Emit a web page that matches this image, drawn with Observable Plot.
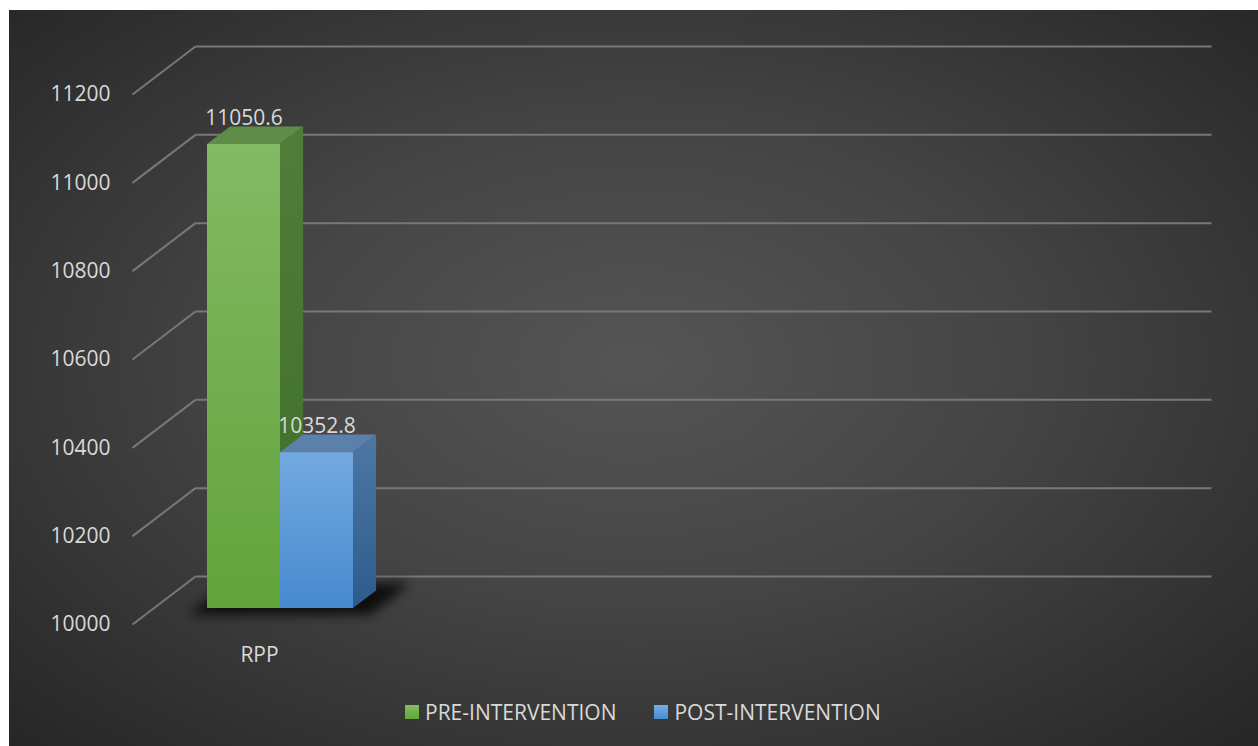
<!DOCTYPE html>
<html><head><meta charset="utf-8">
<script src="https://cdn.jsdelivr.net/npm/d3@7"></script>
<script src="https://cdn.jsdelivr.net/npm/@observablehq/plot@0.6"></script>
<style>
html,body{margin:0;padding:0;background:#fff;}
#frame{position:absolute;left:9px;top:10px;width:1249px;height:736px;
background:radial-gradient(ellipse farthest-corner at 50% 48%, #555555 0%, #444444 45%, #262626 100%);
font-family:"Open Sans",sans-serif;overflow:hidden;}
#legend{position:absolute;left:396px;top:688px;height:28px;display:flex;align-items:center;color:#d9d9d9;font-size:21px;white-space:nowrap;}
.item{display:flex;align-items:center;}
.sw{width:14px;height:14px;margin-right:6px;}
</style></head><body><div id="frame"><div id="chart"></div><div id="legend"></div></div>
<script>
// ---- data ----
const categories = ["RPP"];
const seriesNames = ["PRE-INTERVENTION", "POST-INTERVENTION"];
const preValues = [11050.6];
const postValues = [10352.8];
const yTicks = [10000, 10200, 10400, 10600, 10800, 11000, 11200];

// ---- layout / style constants ----
const W = 1249, H = 680;
const slots = 4;                       // category slots along the 3D floor
const xRange = [123, 1139], yRange = [614, 84];
const yDomain = [10000, 11200];
const depthX = 63, depthY = 48;        // oblique depth of the back wall (px)
const pxPerX = (xRange[1] - xRange[0]) / slots;
const pxPerY = (yRange[0] - yRange[1]) / (yDomain[1] - yDomain[0]);
const dxu = d => d * depthX / pxPerX;  // depth -> x data units
const dyu = d => d * depthY / pxPerY;  // depth -> y data units
const barW = 73 / pxPerX;
const d0 = 1 / 3, d1 = 0.70;          // bar front/back depth
const base = yDomain[0];
const txt = "#d9d9d9", grid = "#787878", font = "Open Sans", fs = 21;
const shadowFill = "#010101";
const seriesValues = [preValues, postValues];
const fills = [
  {front: "url(#gF0)", side: "url(#gS0)", top: "#5f8c47", legend: "linear-gradient(#83bd62,#63a73b)"},
  {front: "url(#gF1)", side: "url(#gS1)", top: "#5b80aa", legend: "linear-gradient(#75aee6,#4a8bd0)"}
];

const marks = [];
// back wall gridlines
marks.push(Plot.link(yTicks, {
  x1: () => dxu(1), x2: () => slots + dxu(1),
  y1: t => t + dyu(1), y2: t => t + dyu(1),
  stroke: grid, strokeWidth: 2
}));
// side wall diagonals
marks.push(Plot.link(yTicks, {
  x1: () => 0, x2: () => dxu(1),
  y1: t => t, y2: t => t + dyu(1),
  stroke: grid, strokeWidth: 2
}));
// tick labels
marks.push(Plot.text(yTicks, {
  x: () => 0, y: t => t, dx: -22, text: t => String(t), textAnchor: "end",
  fill: txt, fontSize: fs, fontFamily: font
}));
// floor shadow
categories.forEach((c, i) => {
  const xl = i + 0.5 - barW - 0.04, xr = i + 0.5 + barW + 0.1;
  const pts = [0.2, 0.85].map(d => ({y: base + dyu(d), x1: xl + dxu(d), x2: xr + dxu(d)}));
  marks.push(Plot.areaX(pts, {y: "y", x1: "x1", x2: "x2", fill: shadowFill, fillOpacity: 0.8}));
});
// bars
seriesValues.forEach((vals, j) => {
  vals.forEach((v, i) => {
    const xl = i + 0.5 - barW + j * barW, xr = xl + barW;
    const side = [d0, d1].map(d => ({x: xr + dxu(d), y1: base + dyu(d), y2: v + dyu(d)}));
    marks.push(Plot.areaY(side, {x: "x", y1: "y1", y2: "y2", fill: fills[j].side}));
    const top = [d0, d1].map(d => ({y: v + dyu(d), x1: xl + dxu(d), x2: xr + dxu(d)}));
    marks.push(Plot.areaX(top, {y: "y", x1: "x1", x2: "x2", fill: fills[j].top}));
    marks.push(Plot.rect([v], {
      x1: () => xl + dxu(d0), x2: () => xr + dxu(d0),
      y1: () => base + dyu(d0), y2: d => d + dyu(d0), fill: fills[j].front
    }));
    marks.push(Plot.text([v], {
      x: () => (xl + xr) / 2 + dxu(d0), y: d => d + dyu(d0), dy: -26,
      text: d => String(d), fill: txt, fontSize: fs, fontFamily: font
    }));
  });
});
// category labels
marks.push(Plot.text(categories, {
  x: (d, i) => i + 0.5, y: () => base, dy: 31, text: d => d,
  fill: txt, fontSize: fs, fontFamily: font
}));

const svg = Plot.plot({
  width: W, height: H, margin: 0,
  style: {background: "transparent", overflow: "visible", fontFamily: font},
  x: {type: "linear", domain: [0, slots], range: xRange, axis: null},
  y: {type: "linear", domain: yDomain, range: yRange, axis: null},
  marks
});

const defs = d3.select(svg).insert("defs", ":first-child");
function lg(id, c1, c2) {
  const g = defs.append("linearGradient").attr("id", id).attr("x1", 0).attr("y1", 0).attr("x2", 0).attr("y2", 1);
  g.append("stop").attr("offset", "0%").attr("stop-color", c1);
  g.append("stop").attr("offset", "100%").attr("stop-color", c2);
}
lg("gF0", "#83b964", "#62a43a");
lg("gS0", "#507e38", "#3f6e28");
lg("gF1", "#73a9e0", "#4689cf");
lg("gS1", "#4e77a4", "#2c5c8c");
defs.append("filter").attr("id", "shadowBlur")
  .attr("filterUnits", "userSpaceOnUse").attr("x", 0).attr("y", 0).attr("width", W).attr("height", H)
  .append("feGaussianBlur").attr("stdDeviation", 6);
d3.select(svg).selectAll(`[fill="${shadowFill}"]`).attr("filter", "url(#shadowBlur)");

document.getElementById("chart").appendChild(svg);

// legend
const legend = d3.select("#legend");
seriesNames.forEach((name, j) => {
  const it = legend.append("div").attr("class", "item").style("margin-left", j ? "38px" : "0");
  it.append("div").attr("class", "sw").style("background", fills[j].legend);
  it.append("span").text(name);
});
</script></body></html>
